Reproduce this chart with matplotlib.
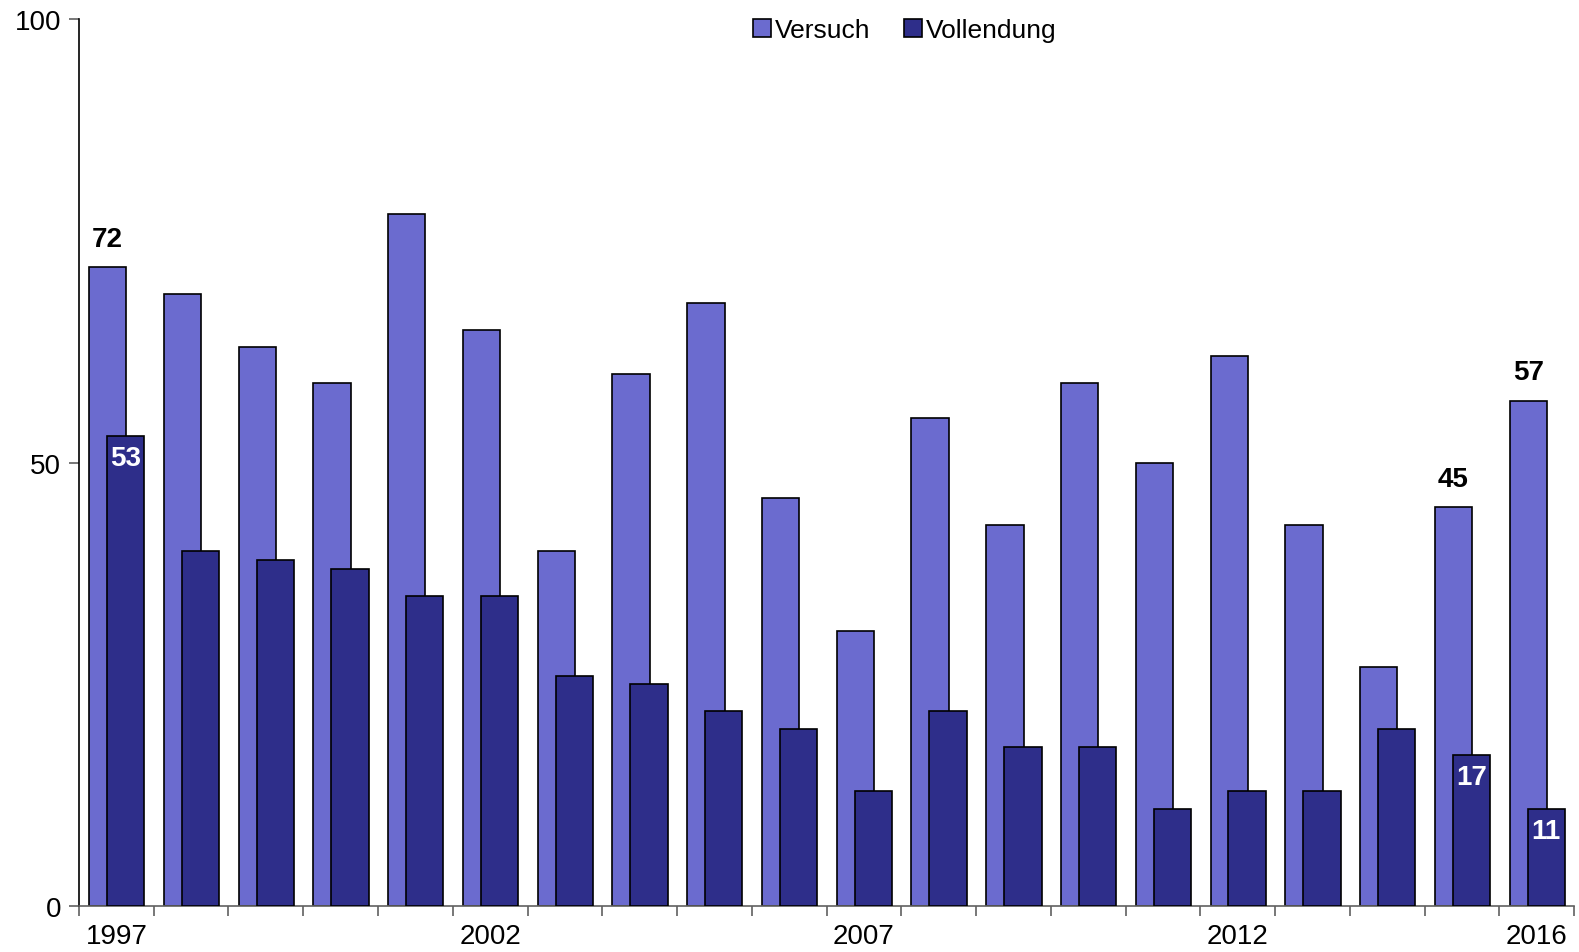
import matplotlib.pyplot as plt
import numpy as np

plt.rcParams['font.family'] = ['Liberation Sans', 'DejaVu Sans']

years = list(range(1997, 2017))
versuch = [72, 69, 63, 59, 78, 65, 40, 60, 68, 46, 31, 55, 43, 59, 50, 62, 43, 27, 45, 57]
vollendung = [53, 40, 39, 38, 35, 35, 26, 25, 22, 20, 13, 22, 18, 18, 11, 13, 13, 20, 17, 11]
shown_years = [1997, 2002, 2007, 2012, 2016]
label_versuch = [1997, 2015, 2016]
label_vollendung = [1997, 2015, 2016]

fig = plt.figure(figsize=(15.79, 9.53), dpi=100)
ax = fig.add_axes([0.050, 0.048, 0.947, 0.931])

x = np.arange(len(years))
b1 = ax.bar(x - 0.115, versuch, width=0.5, color="#6b6bcf", edgecolor="black",
            linewidth=1.2, label="Versuch", zorder=2)
b2 = ax.bar(x + 0.125, vollendung, width=0.5, color="#2e2e8a", edgecolor="black",
            linewidth=1.2, label="Vollendung", zorder=3)

for i, y in enumerate(years):
    if y in label_versuch:
        ax.text(x[i] - 0.115, versuch[i] + 1.7, str(versuch[i]), ha="center", va="bottom",
                fontsize=20, fontweight="bold", color="black")
    if y in label_vollendung:
        ax.text(x[i] + 0.125, vollendung[i] - 1.0, str(vollendung[i]), ha="center", va="top",
                fontsize=20, fontweight="bold", color="white", zorder=4)

ax.set_xlim(-0.5, len(years) - 0.5)
ax.set_ylim(0, 100)
ax.set_yticks([0, 50, 100])
ax.tick_params(axis="y", labelsize=20, length=7, color="#606060", width=1.2, pad=6)

ax.set_xticks([years.index(y) for y in shown_years])
ax.set_xticklabels([str(y) for y in shown_years])
ax.set_xticks(np.arange(len(years) + 1) - 0.5, minor=True)
ax.tick_params(axis="x", which="major", length=0, labelsize=20, pad=12)
ax.tick_params(axis="x", which="minor", length=7, color="#606060", width=1.2)

ax.spines["top"].set_visible(False)
ax.spines["right"].set_visible(False)
ax.spines["left"].set_linewidth(1.2)
ax.spines["bottom"].set_color("#606060")
ax.spines["bottom"].set_linewidth(1.2)

ax.legend(loc="center", bbox_to_anchor=(0.573, 0.967), bbox_transform=fig.transFigure,
          ncol=2, frameon=False, fontsize=19, handlelength=0.65, handleheight=0.65,
          handletextpad=0.15, columnspacing=1.3)

fig.savefig("out.png", dpi=100)
